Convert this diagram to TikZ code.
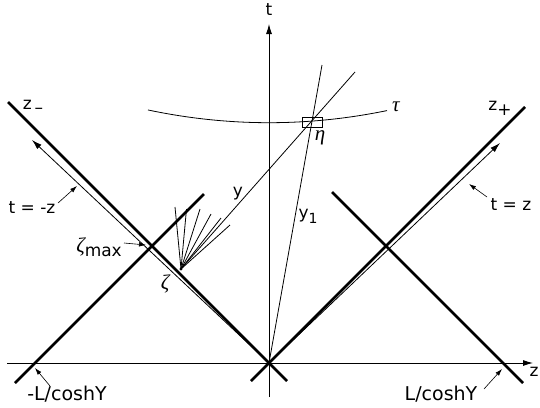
\documentclass[tikz,border=0pt]{standalone}
\usepackage{fontspec}
\setmainfont{DejaVu Sans}
\newfontfamily\grk{Liberation Serif}
\usetikzlibrary{arrows.meta}
\begin{document}
\begin{tikzpicture}[x=1pt,y=-1pt,
  thickln/.style={line width=2.6pt},
  thinln/.style={line width=0.8pt},
  axisln/.style={line width=0.9pt},
  lab/.style={inner sep=0pt, font=\fontsize{17}{17}\selectfont},
  biglab/.style={inner sep=0pt, font=\fontsize{19}{19}\selectfont},
  greek/.style={inner sep=0pt, font=\fontsize{21}{21}\selectfont\grk\itshape},
  ptr/.style={line width=0.6pt, -{Latex[length=7pt,width=4.5pt]}},
  bigtip/.style={-{Latex[length=10pt,width=6pt]}},
]
\useasboundingbox (0,0) rectangle (540,407);
\fill[white] (0,0) rectangle (540,407);

% key points
\coordinate (O) at (269,363);
\coordinate (tbot) at (269,397);
\coordinate (ttop) at (269,24);
\coordinate (zleft) at (7,363);
\coordinate (zright) at (533,363);
\coordinate (zmA) at (287,381);
\coordinate (zmB) at (8,102);
\coordinate (zpA) at (251,381);
\coordinate (zpB) at (525,107);
\coordinate (blA) at (15,383);
\coordinate (blB) at (204,194);
\coordinate (brA) at (523,383);
\coordinate (brB) at (332,192);
\coordinate (tmz) at (32,140);
\coordinate (tpz) at (500,143);
\coordinate (zeta) at (181,269);
\coordinate (ytop) at (355,72);
\coordinate (yonetop) at (322,65);
\coordinate (eta) at (312,122);
\coordinate (f1) at (175,207);
\coordinate (f2) at (186.5,209);
\coordinate (f3) at (200,209);
\coordinate (f4) at (211,214);
\coordinate (f5) at (221,218);
\coordinate (f6) at (230,225);

% axes
\draw[axisln, bigtip] (tbot) -- (ttop);
\draw[axisln, bigtip] (zleft) -- (zright);

% thick world lines
\draw[thickln] (zmA) -- (zmB);
\draw[thickln] (zpA) -- (zpB);
\draw[thickln] (blA) -- (blB);
\draw[thickln] (brA) -- (brB);

% light cone lines
\draw[thinln, bigtip] (O) -- (tmz);
\draw[thinln, bigtip] (O) -- (tpz);

% tau curve
\draw[thinln] plot[domain=148:387, samples=60, smooth] (\x, {122.7-0.00087*(\x-269)*(\x-269)});

% rapidity lines
\draw[thinln] (zeta) -- (ytop);
\draw[thinln] (O) -- (yonetop);
\foreach \f in {f1,f2,f3,f4,f5,f6} \draw[thinln] (zeta) -- (\f);
\fill (zeta) circle (1.6pt);

% eta box
\node[draw, line width=0.8pt, minimum width=20pt, minimum height=10pt, inner sep=0pt] (box) at (eta) {};

% labels
\node[lab] (tlab) at (269,10) {t};
\node[lab] (zlab) at (534,372) {z};
\node[lab] (zmlab) at (33,107) {z\hspace{3pt}\raisebox{-4pt}{–}};
\node[lab] (zplab) at (500,108) {z\raisebox{-5pt}{+}};
\node[greek] (taulab) at (396,107) {τ};
\node[greek] (etalab) at (320,138) {η};
\node[greek] (zetalab) at (165,284) {ζ};
\node[lab] (ylab) at (238,194) {y};
\node[lab] (yonelab) at (308,216) {y\raisebox{-5pt}{\fontsize{14}{14}\selectfont 1}};

\node[lab] (tmzlab) at (32,208) {t = -z};
\coordinate (tmzS) at (58,203);
\coordinate (tmzE) at (77,186);
\draw[ptr] (tmzS) -- (tmzE);

\node[lab] (tpzlab) at (511,205) {t = z};
\coordinate (tpzS) at (487,197);
\coordinate (tpzE) at (469,184);
\draw[ptr] (tpzS) -- (tpzE);

\node[lab, anchor=east] (zmaxlab) at (122,247) {{\grk\itshape\fontsize{21}{21}\selectfont ζ}\raisebox{-4pt}{max}};
\coordinate (zmaxS) at (124,243);
\coordinate (zmaxE) at (146,245);
\draw[ptr] (zmaxS) -- (zmaxE);

\node[biglab] (lmlab) at (67,394) {-L/coshY};
\coordinate (lmS) at (50,386);
\coordinate (lmE) at (35,368);
\draw[ptr] (lmS) -- (lmE);

\node[biglab] (lplab) at (441,394) {L/coshY};
\coordinate (lpS) at (484,389);
\coordinate (lpE) at (502,369);
\draw[ptr] (lpS) -- (lpE);
\end{tikzpicture}
\end{document}
